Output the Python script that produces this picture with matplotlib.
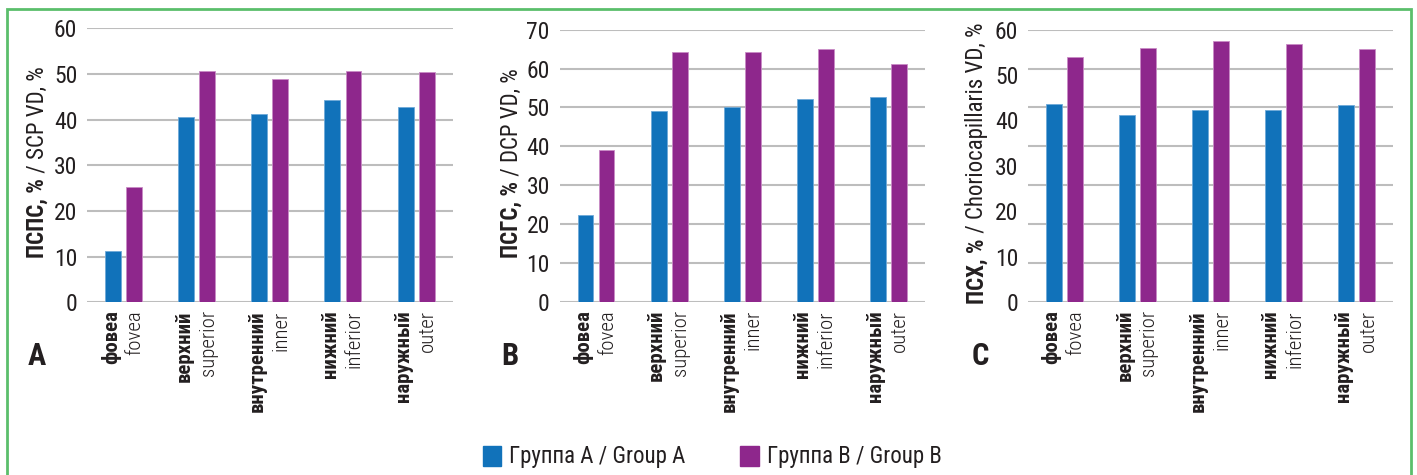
import matplotlib
matplotlib.use("Agg")
import matplotlib.pyplot as plt
from matplotlib import font_manager as fm
from matplotlib.patches import Patch, Rectangle
from matplotlib.transforms import blended_transform_factory
import numpy as np

# ---------------- data ----------------
cats_ru = ["фовеа", "верхний", "внутренний", "нижний", "наружный"]
cats_en = ["fovea", "superior", "inner", "inferior", "outer"]

scp_a = [11.3, 40.5, 41.3, 44.4, 42.7]
scp_b = [25.3, 50.6, 48.8, 50.6, 50.4]

dcp_a = [22.4, 49.1, 50.1, 52.1, 52.6]
dcp_b = [39.2, 64.3, 64.3, 65.1, 61.2]

cc_a = [43.7, 41.3, 42.4, 42.2, 43.5]
cc_b = [54.0, 56.0, 57.4, 56.8, 55.7]

legend_labels = ["Группа А / Group A", "Группа В / Group B"]

# ---------------- fonts ----------------
names = {f.name for f in fm.fontManager.ttflist}
cands = ["Roboto Condensed", "Liberation Sans Narrow", "Roboto"]
base = next((c for c in cands if c in names), "DejaVu Sans")
plt.rcParams['font.family'] = [base, 'DejaVu Sans']

BLUE = "#1172BA"
PURPLE = "#8E278C"
GRID = "#BDBDBD"
TXT = "#231F20"

fig = plt.figure(figsize=(14.17, 4.75), dpi=100)
W, H = 1417, 475

def fx(px):
    return px / W

def fy(py):
    return 1 - py / H

panels = [
    dict(a=scp_a, b=scp_b, left=87, right=452.7, top=28.3, bottom=302.3, ymax=60,
         ticks=np.arange(0, 61, 10), grid=np.arange(0, 61, 10),
         bold="ПСПС, %", reg=" / SCP VD, %", lx=37, lyb=258, letter="A", letx=37),
    dict(a=dcp_a, b=dcp_b, left=559.5, right=924.7, top=29.7, bottom=302, ymax=70,
         ticks=np.arange(0, 71, 10), grid=np.arange(0, 71, 10),
         bold="ПСГС, %", reg=" / DCP VD, %", lx=511.7, lyb=258, letter="B", letx=510),
    dict(a=cc_a, b=cc_b, left=1028, right=1393.3, top=29.7, bottom=302, ymax=60,
         ticks=np.arange(0, 61, 10), grid=np.linspace(0, 60, 8),
         bold="ПСХ, %", reg=" / Choriocapillaris VD, %", lx=977, lyb=304, letter="C", letx=980),
]

x = np.arange(len(cats_ru))
bw = 0.218
off = 0.144

for p in panels:
    ax = fig.add_axes([fx(p['left']), fy(p['bottom']),
                       fx(p['right'] - p['left']), (p['bottom'] - p['top']) / H])
    ax.set_xlim(-0.5, len(cats_ru) - 0.5)
    ax.set_ylim(0, p['ymax'])
    for g in p['grid']:
        ax.axhline(g, color=GRID, lw=1.5, zorder=1)
    ax.bar(x - off, p['a'], bw, color=BLUE, edgecolor="#6FA9D8", linewidth=0.6, zorder=3)
    ax.bar(x + off, p['b'], bw, color=PURPLE, edgecolor="#C98CC6", linewidth=0.6, zorder=3)
    for s in ax.spines.values():
        s.set_visible(False)
    ax.set_yticks(p['ticks'])
    ax.set_yticklabels([str(int(t)) for t in p['ticks']])
    ax.tick_params(axis='y', length=0, pad=7, labelsize=17, labelcolor=TXT)
    ax.set_xticks([])
    tr = blended_transform_factory(ax.transData, ax.transAxes)
    ylab = -8 / (p['bottom'] - p['top'])
    for i in range(len(cats_ru)):
        ax.text(x[i] - 0.175, ylab, cats_ru[i], rotation=90, ha='center', va='top',
                fontsize=15, fontweight='bold', color=TXT, transform=tr)
        ax.text(x[i] + 0.155, ylab, cats_en[i], rotation=90, ha='center', va='top',
                fontsize=15, fontweight='light', color=TXT, transform=tr)
    t1 = fig.text(fx(p['lx']), fy(p['lyb']), p['bold'], rotation=90, ha='center', va='bottom',
                  fontsize=16.5, fontweight='bold', color=TXT)
    ax.annotate(p['reg'], xy=(0.5, 1), xycoords=t1, rotation=90, ha='center', va='bottom',
                fontsize=16.5, color=TXT, annotation_clip=False)
    fig.text(fx(p['letx']), fy(356), p['letter'], ha='center', va='center',
             fontsize=22, fontweight='bold', color=TXT)

handles = [Patch(facecolor=BLUE, edgecolor=BLUE), Patch(facecolor=PURPLE, edgecolor=PURPLE)]
fig.legend(handles, legend_labels, loc='center', bbox_to_anchor=(fx(712), fy(457)), ncol=2,
           frameon=False, fontsize=16.5, handlelength=0.8, handleheight=0.95,
           handletextpad=0.35, columnspacing=2.4, labelcolor=TXT)

fig.patches.append(Rectangle((fx(7), fy(490)), fx(1411 - 7), (490 - 9) / H, transform=fig.transFigure,
                             fill=False, edgecolor="#5BBE6B", linewidth=2, figure=fig))

fig.savefig("out.png", dpi=100)
